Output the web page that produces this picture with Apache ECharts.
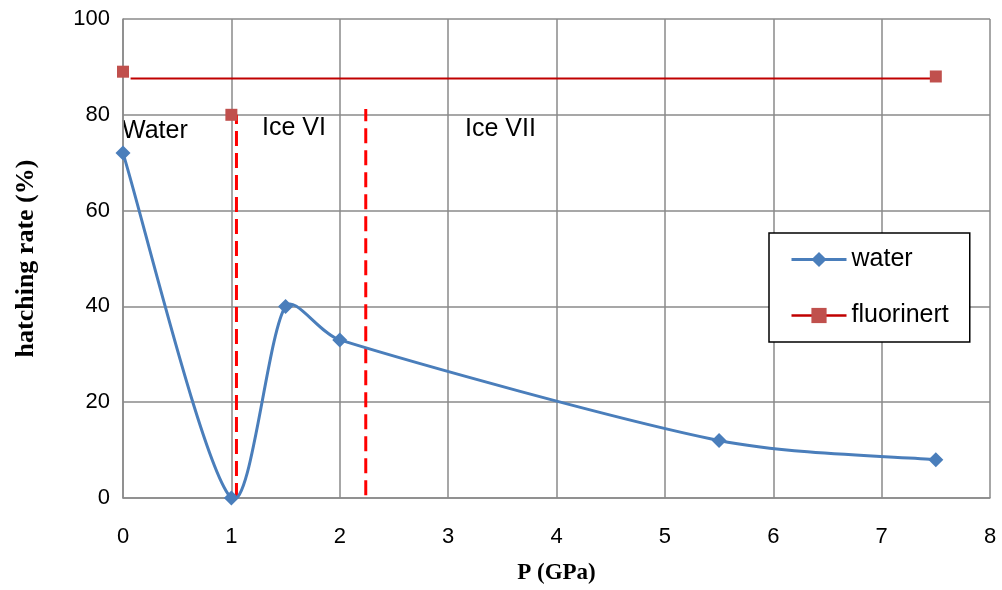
<!DOCTYPE html>
<html>
<head>
<meta charset="utf-8">
<script src="https://cdn.jsdelivr.net/npm/echarts@6/dist/echarts.min.js"></script>
<style>html,body{margin:0;padding:0;background:#fff}#c{width:1002px;height:590px}</style>
</head>
<body>
<div id="c"></div>
<script>
var waterData = [[0,72],[1,0],[1.5,40],[2,33],[5.5,12],[7.5,8]];
var fluorinertData = [[0,89],[1,80],[7.5,88]];
var fluorinertTrend = [[0.07,87.6],[7.5,87.6]];
var boundary1 = [[1.047,0],[1.047,80]];
var boundary2 = [[2.24,0.6],[2.24,81.2]];
var xTicks = {min:0, max:8, interval:1};
var yTicks = {min:0, max:100, interval:20};
var phaseLabels = ['Water','Ice VI','Ice VII'];

var chart = echarts.init(document.getElementById('c'));
var gridC = '#8a8a8a';
var sans = 'Liberation Sans';
var waterColor = '#4A7EBB';

// Excel-like smoothed curve through the water points (control points from pixel coords)
function renderSmooth(params, api) {
  var pts = waterData.map(function (d) { return api.coord(d); });
  var n = pts.length;
  function dist(a, b) { return Math.sqrt((a[0]-b[0])*(a[0]-b[0]) + (a[1]-b[1])*(a[1]-b[1])); }
  var cpIn = [], cpOut = [];
  for (var i = 0; i < n; i++) {
    var p = pts[i], prev = pts[Math.max(0, i-1)], next = pts[Math.min(n-1, i+1)];
    var v = [(next[0]-prev[0])/6, (next[1]-prev[1])/6];
    var d0 = dist(p, prev), d1 = dist(p, next), s = d0 + d1;
    var k0 = s > 0 ? Math.min(1, 2*d0/s) : 0;
    var k1 = s > 0 ? Math.min(1, 2*d1/s) : 0;
    if (i === 0) k0 = 0, k1 = 1;
    if (i === n-1) k1 = 0, k0 = 1;
    cpIn.push([p[0]-v[0]*k0, p[1]-v[1]*k0]);
    cpOut.push([p[0]+v[0]*k1, p[1]+v[1]*k1]);
  }
  var children = [];
  for (var j = 0; j < n-1; j++) {
    children.push({
      type: 'bezierCurve',
      shape: {x1: pts[j][0], y1: pts[j][1], x2: pts[j+1][0], y2: pts[j+1][1],
        cpx1: cpOut[j][0], cpy1: cpOut[j][1], cpx2: cpIn[j+1][0], cpy2: cpIn[j+1][1]},
      style: {stroke: waterColor, lineWidth: 3, fill: null}
    });
  }
  return {type: 'group', children: children};
}

chart.setOption({
  animation:false,
  grid:{left:123,right:12,top:19,bottom:91},
  xAxis:{type:'value',min:xTicks.min,max:xTicks.max,interval:xTicks.interval,
    name:'P (GPa)',nameLocation:'middle',nameGap:64,
    nameTextStyle:{fontFamily:'Liberation Serif',fontWeight:'bold',fontSize:23,color:'#000'},
    axisLine:{lineStyle:{color:gridC,width:1.5}},axisTick:{show:false},
    axisLabel:{fontFamily:sans,fontSize:22,color:'#000',margin:28},
    splitLine:{show:true,lineStyle:{color:gridC,width:1.5}}},
  yAxis:{type:'value',min:yTicks.min,max:yTicks.max,interval:yTicks.interval,
    name:'hatching rate (%)',nameLocation:'middle',nameGap:84,
    nameTextStyle:{fontFamily:'Liberation Serif',fontWeight:'bold',fontSize:26,color:'#000'},
    axisLine:{show:true,lineStyle:{color:gridC,width:1.5}},axisTick:{show:false},
    axisLabel:{fontFamily:sans,fontSize:22,color:'#000',margin:13},
    splitLine:{show:true,lineStyle:{color:gridC,width:1.5}}},
  legend:{orient:'vertical',left:769,top:233,
    padding:[13.5,21,13.5,21],itemGap:30,itemWidth:55,itemHeight:19,
    borderColor:'#000',borderWidth:1.5,backgroundColor:'#fff',
    textStyle:{fontFamily:sans,fontSize:25,color:'#000',lineHeight:26},
    data:[{name:'water',lineStyle:{color:waterColor,width:3,opacity:1}},
          {name:'fluorinert',lineStyle:{color:'#C00000',width:2.5,opacity:1}}]},
  graphic:[
    {type:'text',left:122,top:119,style:{text:phaseLabels[0],font:'25px "Liberation Sans"',fill:'#000'}},
    {type:'text',left:262,top:116,style:{text:phaseLabels[1],font:'25px "Liberation Sans"',fill:'#000'}},
    {type:'text',left:465,top:117,style:{text:phaseLabels[2],font:'25px "Liberation Sans"',fill:'#000'}}
  ],
  series:[
    {name:'fluorinert trend',type:'line',data:fluorinertTrend,symbol:'none',silent:true,
      lineStyle:{color:'#C00000',width:2},z:3},
    {name:'boundary1',type:'line',data:boundary1,symbol:'none',silent:true,
      lineStyle:{color:'#FF0000',width:3,type:[15,7]},z:4},
    {name:'boundary2',type:'line',data:boundary2,symbol:'none',silent:true,
      lineStyle:{color:'#FF0000',width:3,type:[15,7]},z:4},
    {name:'water curve',type:'custom',data:[0],renderItem:renderSmooth,silent:true,z:5},
    {name:'water',type:'line',data:waterData,symbol:'diamond',symbolSize:15,
      lineStyle:{color:waterColor,width:3,opacity:0},itemStyle:{color:waterColor},z:6},
    {name:'fluorinert',type:'line',data:fluorinertData,symbol:'rect',symbolSize:12,
      lineStyle:{opacity:0,color:'#C00000'},itemStyle:{color:'#C0504D'},z:6}
  ]
});
</script>
</body>
</html>
